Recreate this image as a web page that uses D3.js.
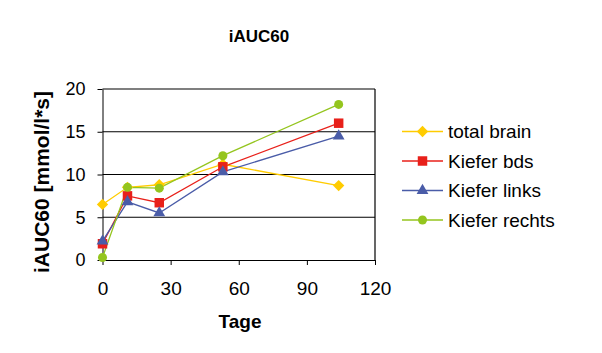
<!DOCTYPE html>
<meta charset="utf-8">
<script src="https://d3js.org/d3.v7.min.js"></script>
<style>
body { margin: 0; background: #fff; }
text { font-family: "Liberation Sans", Arial, sans-serif; }
.axis .domain { stroke: #000; }
.axis line { stroke: #000; }
</style>
<body>
<div id="canvas"></div>
<script>

// tage (x) und werte je serie
var days = [0, 11, 25, 53, 104];
var seriesNames = ["total brain", "Kiefer bds", "Kiefer links", "Kiefer rechts"];
var totalBrain   = [6.5, 8.5, 8.8, 11.2, 8.7];
var kieferBds    = [1.9, 7.5, 6.7, 10.9, 16.0];
var kieferLinks  = [2.2, 6.8, 5.5, 10.3, 14.5];
var kieferRechts = [0.3, 8.5, 8.4, 12.2, 18.2];
var xTicks = [0, 30, 60, 90, 120];
var yTicks = [0, 5, 10, 15, 20];

var seriesValues = [totalBrain, kieferBds, kieferLinks, kieferRechts];
var colors = ["#FFCC00", "#E8201A", "#4A5CA8", "#94C51E"];
// raute = gedrehtes quadrat
var symbols = [d3.symbolSquare, d3.symbolSquare, d3.symbolTriangle, d3.symbolCircle];
var symSize = [64, 90, 60, 64];
var symRot = [45, 0, 0, 0];

var width = 602, height = 353;
var svg = d3.select("#canvas").append("svg")
    .attr("width", width).attr("height", height);

var margin = {left: 102.5, top: 89, right: 227, bottom: 93};
var w = width - margin.left - margin.right;
var h = height - margin.top - margin.bottom;

var g = svg.append("g").attr("transform", "translate(" + margin.left + "," + margin.top + ")");

var x = d3.scaleLinear().domain([0, 120]).range([0, w]);
var y = d3.scaleLinear().domain([0, 20]).range([h, 0]);

// gitterlinien
g.selectAll(".grid").data(yTicks.slice(1)).enter().append("line")
    .attr("x1", 0).attr("x2", w)
    .attr("y1", function(d) { return y(d); }).attr("y2", function(d) { return y(d); })
    .attr("stroke", "#000").attr("stroke-width", 1.2);
g.append("line").attr("x1", w).attr("x2", w).attr("y1", 0).attr("y2", h)
    .attr("stroke", "#000").attr("stroke-width", 1.2);

// achsen
g.append("g").attr("class", "axis")
    .call(d3.axisLeft(y).tickValues(yTicks).tickSize(5).tickPadding(12).tickSizeOuter(0))
    .style("font-size", "18px").style("font-family", "Liberation Sans, Arial, sans-serif");
g.append("g").attr("class", "axis")
    .attr("transform", "translate(0," + h + ")")
    .call(d3.axisBottom(x).tickValues(xTicks).tickSize(5).tickPadding(17).tickSizeOuter(0))
    .style("font-size", "19px").style("font-family", "Liberation Sans, Arial, sans-serif");
g.selectAll(".axis text").attr("fill", "#000");

// linien und marker
var line = d3.line()
    .x(function(d, i) { return x(days[i]); })
    .y(function(d) { return y(d); });

seriesValues.forEach(function(vals, s) {
    g.append("path").datum(vals)
        .attr("d", line)
        .attr("fill", "none")
        .attr("stroke", colors[s])
        .attr("stroke-width", 1.3);
});
seriesValues.forEach(function(vals, s) {
    g.selectAll(".m" + s).data(vals).enter().append("path")
        .attr("transform", function(d, i) { return "translate(" + x(days[i]) + "," + y(d) + ") rotate(" + symRot[s] + ")"; })
        .attr("d", d3.symbol().type(symbols[s]).size(symSize[s]))
        .attr("fill", colors[s]);
});

// titel und achsentitel
svg.append("text").attr("x", 259).attr("y", 42)
    .attr("text-anchor", "middle").attr("font-weight", "bold").attr("font-size", "17px")
    .text("iAUC60");
svg.append("text").attr("x", 240).attr("y", 328)
    .attr("text-anchor", "middle").attr("font-weight", "bold").attr("font-size", "19px")
    .text("Tage");
svg.append("text")
    .attr("transform", "translate(49,182) rotate(-90)")
    .attr("text-anchor", "middle").attr("font-weight", "bold").attr("font-size", "21px")
    .text("iAUC60 [mmol/l*s]");

// legende
var legend = svg.selectAll(".legend").data(seriesNames).enter().append("g")
    .attr("transform", function(d, i) { return "translate(402," + (131.5 + i * 29.5) + ")"; });
legend.append("line").attr("x1", 0).attr("x2", 41)
    .attr("stroke", function(d, i) { return colors[i]; }).attr("stroke-width", 1.3);
legend.append("path")
    .attr("transform", function(d, i) { return "translate(20.5,0) rotate(" + symRot[i] + ")"; })
    .attr("d", function(d, i) { return d3.symbol().type(symbols[i]).size(symSize[i])(); })
    .attr("fill", function(d, i) { return colors[i]; });
legend.append("text").attr("x", 46).attr("y", 0).attr("dy", "0.35em")
    .attr("font-size", "19px")
    .text(function(d) { return d; });

</script>
</body>
